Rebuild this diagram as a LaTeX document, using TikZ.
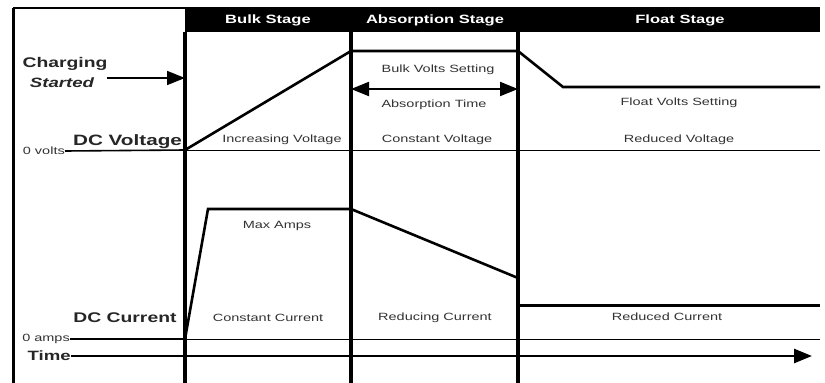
\documentclass[tikz,border=0pt]{standalone}
\usepackage{fontspec}
\setmainfont{Liberation Sans}[FakeStretch=1.38]
\usetikzlibrary{arrows.meta}
\tikzset{
  thickln/.style={line width=2.6pt, line join=miter},
  thinln/.style={line width=0.9pt},
  sepline/.style={line width=3.4pt, black},
  bigtip/.style={-{Triangle[length=18pt,width=14pt]}},
  lbl/.style={inner sep=0pt, font=\fontsize{10.5}{12}\selectfont, text=black!80},
  head/.style={inner sep=0pt, font=\fontsize{12}{14}\selectfont\bfseries, text=white},
  biglbl/.style={inner sep=0pt, font=\fontsize{14}{16}\selectfont\bfseries, text=black!85},
}
\begin{document}
\begin{tikzpicture}[x=1pt,y=-1pt]
\useasboundingbox (0,0) rectangle (825,383);
\fill[white] (0,0) rectangle (825,383);
% frame
\coordinate (frTL) at (13,8);
\coordinate (frBL) at (13,383);
\coordinate (frTR) at (820,8);
\draw[line width=3pt] (frBL) -- (frTL);
\draw[line width=2pt] (frTL) -- (frTR);
% header band
\fill[black] (185,7) rectangle (820,32);
\node[head] (hbulk) at (268,20) {Bulk Stage};
\node[head] (habs) at (435,20) {Absorption Stage};
\node[head] (hfloat) at (680,20) {Float Stage};
% stage separators
\coordinate (s1t) at (185,32); \coordinate (s1b) at (185,383);
\coordinate (s2t) at (351,32); \coordinate (s2b) at (351,383);
\coordinate (s3t) at (518,32); \coordinate (s3b) at (518,383);
\draw[sepline] (s1t) -- (s1b);
\draw[sepline] (s2t) -- (s2b);
\draw[sepline] (s3t) -- (s3b);
% voltage baseline
\node[lbl, anchor=east] (zv) at (65,151) {0 volts};
\coordinate (zvA) at (185,150);
\coordinate (zvE) at (820,150);
\draw[line width=1.6pt] (zv.east) -- (zvA);
\draw[thinln] (zvA) -- (zvE);
\node[biglbl, font=\fontsize{15}{17}\selectfont\bfseries] (dcv) at (127.5,142) {DC Voltage};
% charging started
\node[biglbl] (chg) at (65,64) {Charging};
\node[biglbl, font=\fontsize{13.5}{16}\selectfont\bfseries\itshape] (sta) at (62,83) {Started};
\coordinate (chgE) at (185,78);
\draw[line width=1.6pt, bigtip] (107,78) -- (chgE);
% voltage curve
\coordinate (v1) at (351,51);
\coordinate (v2) at (518,51);
\coordinate (v3) at (563,87);
\coordinate (v4) at (820,87);
\draw[thickln] (zvA) -- (v1) -- (v2) -- (v3) -- (v4);
% absorption time arrow
\coordinate (at1) at (351,89);
\coordinate (at2) at (518,89);
\draw[line width=2pt, {Triangle[length=18pt,width=14pt]}-{Triangle[length=18pt,width=14pt]}] (at1) -- (at2);
\node[lbl] (bvs) at (438,70) {Bulk Volts Setting};
\node[lbl] (abt) at (434,105) {Absorption Time};
\node[lbl] (incv) at (282,140) {Increasing Voltage};
\node[lbl] (conv) at (437,140) {Constant Voltage};
\node[lbl] (fvs) at (679,103) {Float Volts Setting};
\node[lbl] (redv) at (679,140) {Reduced Voltage};
% current baseline
\node[lbl, anchor=east] (za) at (70,339) {0 amps};
\coordinate (zaA) at (185,339);
\coordinate (zaE) at (820,339);
\draw[line width=2pt] (za.east) -- (zaA);
\draw[thinln] (zaA) -- (zaE);
\node[biglbl] (dcc) at (125,318) {DC Current};
% current curve
\coordinate (c1) at (208,209);
\coordinate (c2) at (351,209);
\coordinate (c3) at (518,278);
\draw[thickln] (zaA) -- (c1) -- (c2) -- (c3);
\coordinate (c4) at (518,305);
\coordinate (c5) at (820,305);
\draw[line width=3pt] (c4) -- (c5);
\node[lbl] (maxa) at (277,226) {Max Amps};
\node[lbl] (conc) at (268,318) {Constant Current};
\node[lbl] (redc) at (435,318) {Reducing Current};
\node[lbl] (rdc) at (667,317) {Reduced Current};
% time axis
\node[biglbl, font=\fontsize{13.5}{16}\selectfont\bfseries, anchor=east] (time) at (71,356) {Time};
\coordinate (tE) at (812,356);
\draw[line width=2.6pt, bigtip] (time.east) -- (tE);
\end{tikzpicture}
\end{document}
